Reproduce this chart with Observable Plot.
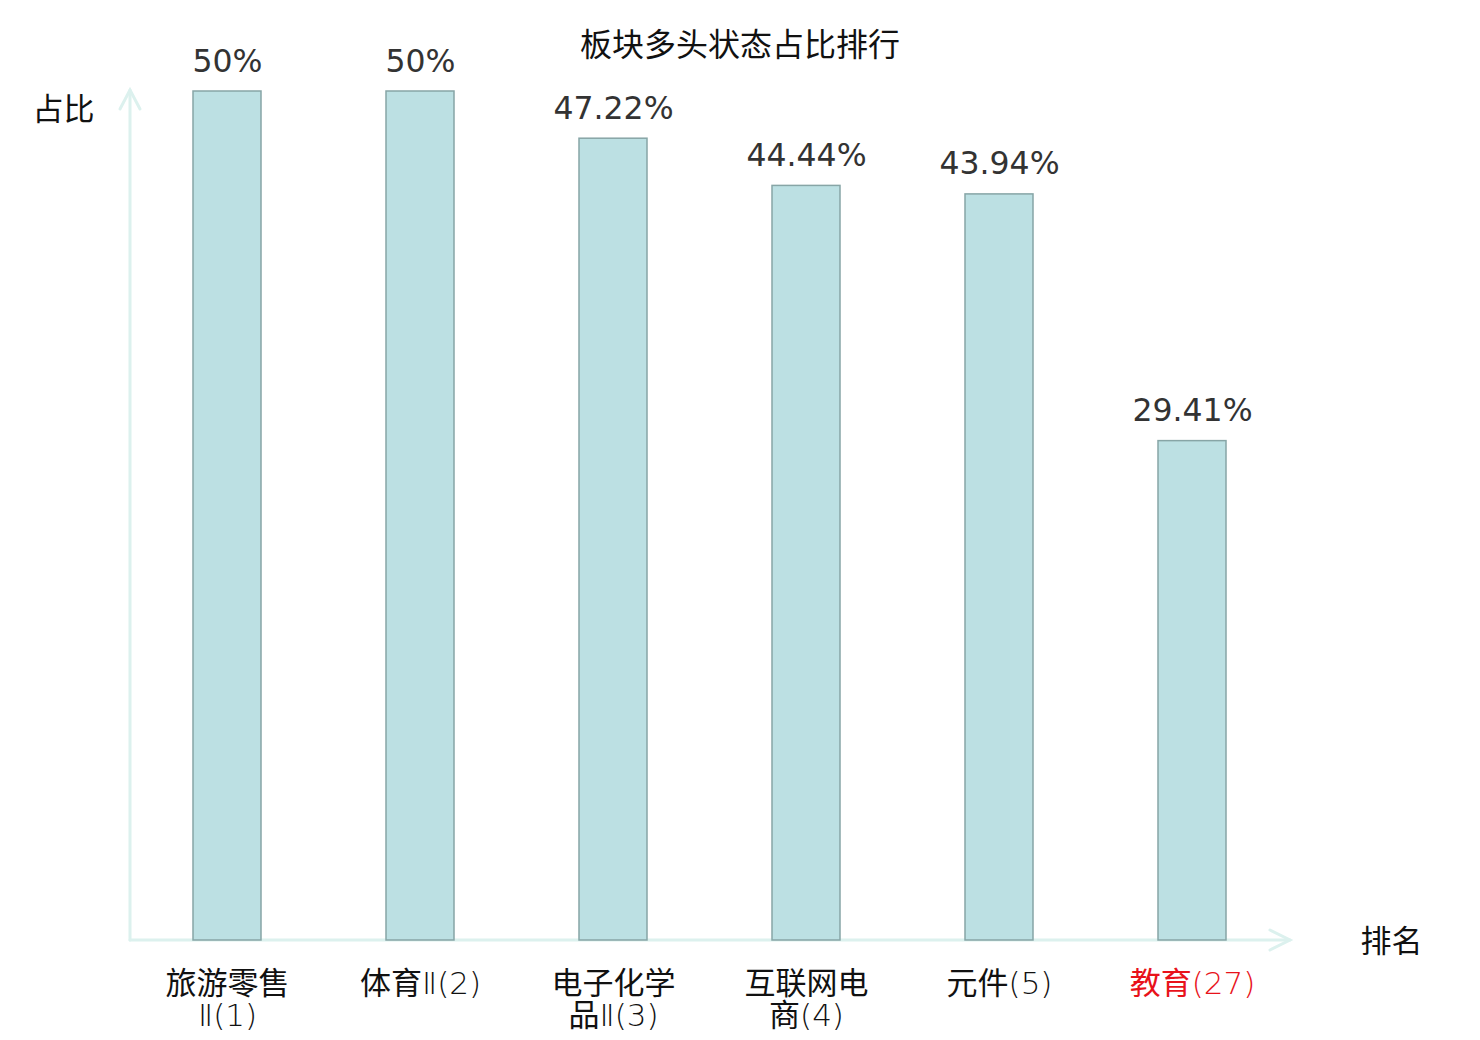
<!DOCTYPE html>
<html><head><meta charset="utf-8">
<script src="https://cdn.jsdelivr.net/npm/d3@7"></script>
<script src="https://cdn.jsdelivr.net/npm/@observablehq/plot@0.6"></script>
<style>
body{margin:0;background:#fff;}
#wrap{position:relative;width:1480px;height:1040px;}
#title{position:absolute;left:0;top:20px;width:1480px;text-align:center;font-family:"Noto Sans CJK SC",sans-serif;font-size:32px;line-height:44px;color:#111;}
.thin{font-family:"DejaVu Sans";font-weight:200;}
</style></head>
<body><div id="wrap"><div id="title">板块多头状态占比排行</div><div id="chart"></div></div>
<script>
const categories = ["旅游零售Ⅱ(1)", "体育Ⅱ(2)", "电子化学品Ⅱ(3)", "互联网电商(4)", "元件(5)", "教育(27)"];
const shares = [50, 50, 47.22, 44.44, 43.94, 29.41];
const highlight = ["教育(27)"];
const yLabel = "占比";
const xLabel = "排名";

const data = categories.map((c, i) => ({cat: c, v: shares[i]}));
const wrapLabel = s => s.length > 6 ? s.slice(0, 4) + "\n" + s.slice(4) : s;
const axisColor = "#dcf1ee";

const plot = Plot.plot({
  width: 1480,
  height: 1040,
  marginLeft: 129,
  marginRight: 191,
  marginTop: 91,
  marginBottom: 100,
  style: {background: "transparent", overflow: "visible"},
  x: {type: "band", domain: categories, paddingInner: 0.65, paddingOuter: 0.325, axis: null},
  y: {domain: [0, 50], axis: null},
  marks: [
    Plot.barY(data, {x: "cat", y: "v", fill: "#bce0e3", stroke: "#87a5a6", strokeWidth: 1.5}),
    Plot.text(data, {x: "cat", y: "v", text: d => `${d.v}%`, lineAnchor: "bottom", dy: -20,
      fontSize: 31.5, fill: "#333", fontFamily: "DejaVu Sans"}),
    Plot.text(data, {x: "cat", frameAnchor: "bottom", text: d => wrapLabel(d.cat), lineAnchor: "top",
      dy: 31, lineHeight: 1.03, fontSize: 31, fontFamily: "Noto Sans CJK SC", className: "ticklab",
      fill: d => highlight.includes(d.cat) ? "#e8121a" : "#111"}),
    Plot.text([yLabel], {frameAnchor: "top-left", textAnchor: "middle", lineAnchor: "middle", dx: -66, dy: 19,
      fontSize: 31, fontFamily: "Noto Sans CJK SC", fill: "#111"}),
    Plot.text([xLabel], {frameAnchor: "bottom-right", textAnchor: "middle", lineAnchor: "middle", dx: 102, dy: 2,
      fontSize: 31, fontFamily: "Noto Sans CJK SC", fill: "#111"})
  ]
});
document.getElementById("chart").appendChild(plot);

// thin Latin glyphs (digits, parentheses, roman numerals) inside tick labels
const isCJK = ch => /[\u4e00-\u9fff]/.test(ch);
d3.select(plot).selectAll("g.ticklab text").each(function() {
  const text = d3.select(this);
  const lines = text.selectAll("tspan").size() ? text.selectAll("tspan").nodes() : [this];
  lines.forEach(node => {
    const s = node.textContent;
    node.textContent = "";
    let buf = "", cjk = null;
    const flush = () => {
      if (!buf) return;
      const t = d3.select(node).append("tspan").text(buf);
      if (!cjk) t.attr("class", "thin");
      buf = "";
    };
    for (const ch of s) {
      const c = isCJK(ch);
      if (cjk !== null && c !== cjk) flush();
      cjk = c; buf += ch;
    }
    flush();
  });
});

// axis lines with arrowheads, placed from the plot's frame
const svg = d3.select(plot);
const x0 = 130, y0 = 940, xEnd = 1290, yTop = 90;
const g = svg.insert("g", ":first-child").attr("fill", "none").attr("stroke", axisColor).attr("stroke-width", 3).attr("stroke-linecap", "round");
g.append("path").attr("d", `M${x0},${y0}V${yTop}`);
g.append("path").attr("d", `M${x0-10},${yTop+19}L${x0},${yTop}L${x0+10},${yTop+19}`);
g.append("path").attr("d", `M${x0},${y0}H${xEnd}`);
g.append("path").attr("d", `M${xEnd-20},${y0-10}L${xEnd},${y0}L${xEnd-20},${y0+10}`);
</script></body></html>
